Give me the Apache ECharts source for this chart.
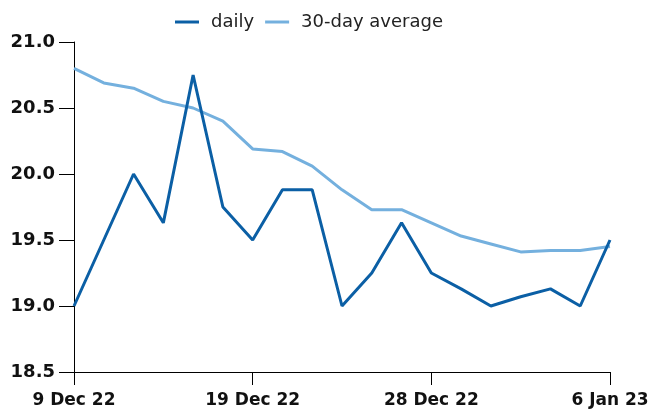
<!DOCTYPE html>
<html>
<head>
<meta charset="utf-8">
<script src="https://cdn.jsdelivr.net/npm/echarts@6/dist/echarts.min.js"></script>
<style>
  html, body { margin: 0; padding: 0; background: #fff; }
  #chart { width: 657px; height: 410px; }
</style>
</head>
<body>
<div id="chart"></div>
<script>
// business days, 26 Dec and 2 Jan skipped
let days = ['9 Dec 22', '12 Dec 22', '13 Dec 22', '14 Dec 22', '15 Dec 22', '16 Dec 22',
  '19 Dec 22', '20 Dec 22', '21 Dec 22', '22 Dec 22', '23 Dec 22', '27 Dec 22',
  '28 Dec 22', '29 Dec 22', '30 Dec 22', '3 Jan 23', '4 Jan 23', '5 Jan 23', '6 Jan 23']
let daily = [19.0, 19.5, 20.0, 19.63, 20.75, 19.75, 19.5, 19.88, 19.88, 19.0,
  19.25, 19.63, 19.25, 19.13, 19.0, 19.07, 19.13, 19.0, 19.5]
let avg30 = [20.8, 20.69, 20.65, 20.55, 20.5, 20.4, 20.19, 20.17, 20.06, 19.88,
  19.73, 19.73, 19.63, 19.53, 19.47, 19.41, 19.42, 19.42, 19.45]
let yTicks = [18.5, 19.0, 19.5, 20.0, 20.5, 21.0]

let font = 'DejaVu Sans'
let chart = echarts.init(document.getElementById('chart'))
chart.setOption({
  animation: false,
  legend: {
    data: ['daily', '30-day average'],
    left: 170,
    top: 8,
    icon: 'rect',
    itemWidth: 24,
    itemHeight: 3,
    itemGap: 11,
    textStyle: { fontFamily: font, fontSize: 18, color: '#222', padding: [0, 0, 0, 7] }
  },
  grid: { left: 74, right: 47, top: 42, bottom: 38 },
  xAxis: {
    type: 'category',
    data: days,
    boundaryGap: false,
    axisLine: { lineStyle: { color: '#000', width: 1 } },
    axisTick: { length: 13, interval: 5, lineStyle: { color: '#000' } },
    axisLabel: {
      interval: 5,
      margin: 20,
      fontFamily: font,
      fontWeight: 'bold',
      fontSize: 17,
      color: '#111'
    },
    splitLine: { show: false }
  },
  yAxis: {
    type: 'value',
    min: yTicks[0],
    max: yTicks[yTicks.length - 1],
    interval: 0.5,
    axisLine: { show: true, lineStyle: { color: '#000', width: 1 } },
    axisTick: { show: true, length: 15, lineStyle: { color: '#000' } },
    axisLabel: {
      margin: 19,
      fontFamily: font,
      fontWeight: 'bold',
      fontSize: 18,
      color: '#111',
      formatter: v => v.toFixed(1)
    },
    splitLine: { show: false }
  },
  series: [
    {
      name: '30-day average',
      type: 'line',
      data: avg30,
      showSymbol: false,
      symbol: 'none',
      lineStyle: { color: '#74b0de', width: 3 },
      itemStyle: { color: '#74b0de' }
    },
    {
      name: 'daily',
      type: 'line',
      data: daily,
      showSymbol: false,
      symbol: 'none',
      lineStyle: { color: '#0b5fa5', width: 3 },
      itemStyle: { color: '#0b5fa5' }
    }
  ]
})
</script>
</body>
</html>
